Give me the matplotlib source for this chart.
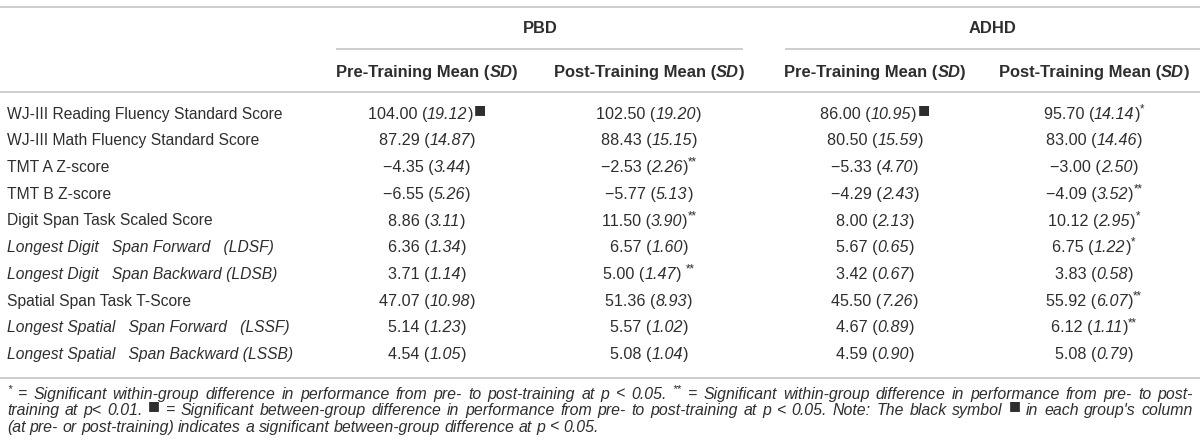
import matplotlib.pyplot as plt

plt.rcParams['font.family'] = ['Liberation Sans', 'DejaVu Sans']

# table content
row_labels = [
    'WJ-III Reading Fluency Standard Score',
    'WJ-III Math Fluency Standard Score',
    'TMT A Z-score',
    'TMT B Z-score',
    'Digit Span Task Scaled Score',
    'Longest Digit   Span Forward   (LDSF)',
    'Longest Digit   Span Backward (LDSB)',
    'Spatial Span Task T-Score',
    'Longest Spatial   Span Forward   (LSSF)',
    'Longest Spatial   Span Backward (LSSB)',
]
italic_rows = [5, 6, 8, 9]

groups = ['PBD', 'ADHD']
col_headers = ['Pre-Training Mean', 'Post-Training Mean',
               'Pre-Training Mean', 'Post-Training Mean']

pbd_pre_mean = [104.00, 87.29, -4.35, -6.55, 8.86, 6.36, 3.71, 47.07, 5.14, 4.54]
pbd_pre_sd = [19.12, 14.87, 3.44, 5.26, 3.11, 1.34, 1.14, 10.98, 1.23, 1.05]
pbd_post_mean = [102.50, 88.43, -2.53, -5.77, 11.50, 6.57, 5.00, 51.36, 5.57, 5.08]
pbd_post_sd = [19.20, 15.15, 2.26, 5.13, 3.90, 1.60, 1.47, 8.93, 1.02, 1.04]
adhd_pre_mean = [86.00, 80.50, -5.33, -4.29, 8.00, 5.67, 3.42, 45.50, 4.67, 4.59]
adhd_pre_sd = [10.95, 15.59, 4.70, 2.43, 2.13, 0.65, 0.67, 7.26, 0.89, 0.90]
adhd_post_mean = [95.70, 83.00, -3.00, -4.09, 10.12, 6.75, 3.83, 55.92, 6.12, 5.08]
adhd_post_sd = [14.14, 14.46, 2.50, 3.52, 2.95, 1.22, 0.58, 6.07, 1.11, 0.79]

# significance markers per column, keyed by row index
SQ = '\u25a0'
pbd_pre_marks = {0: SQ}
pbd_post_marks = {2: '**', 4: '**', 6: ' **'}
adhd_pre_marks = {0: SQ}
adhd_post_marks = {0: '*', 3: '**', 4: '*', 5: '*', 7: '**', 8: '**'}

footnote = [
    [('*', 'sup'), '= Significant within-group difference in performance from pre- to post-training at p < 0.05.',
     ('**', 'sup'), '= Significant within-group difference in performance from pre- to post-'],
    ['training at p< 0.01.', (SQ, 'sq'), '= Significant between-group difference in performance from pre- to post-training at p < 0.05. Note: The black symbol',
     (SQ, 'sq'), "in each group's column"],
    ['(at pre- or post-training) indicates a significant between-group difference at p < 0.05.'],
]

TXT = '#2e2e2e'
LINE = '#cdcdcd'

W, H = 1200, 445
fig = plt.figure(figsize=(12, 4.45), dpi=100)
ax = fig.add_axes([0, 0, 1, 1])
ax.set_xlim(0, W)
ax.set_ylim(H, 0)
ax.axis('off')
renderer = fig.canvas.get_renderer()


def make_text(s, style, y, size):
    fs = size
    yy = y
    fam = ['Liberation Sans', 'DejaVu Sans']
    if 'sup' in style:
        fs = size * 0.72
        yy = y - size * 0.55
    if 'sq' in style:
        fs = size * 0.8
        yy = y - size * 0.5
        fam = ['DejaVu Sans']
    t = ax.text(0, yy, s, fontsize=fs, family=fam, color=TXT,
                fontstyle='italic' if 'i' in style and 'sq' not in style else 'normal',
                fontweight='bold' if 'b' in style else 'normal',
                ha='left', va='baseline')
    return t, t.get_window_extent(renderer).width


def build(runs, y, size):
    objs = []
    for s, style in runs:
        if style == 'gap':
            objs.append((None, s * size / 10))
        else:
            objs.append(make_text(s, style, y, size))
    return objs


def run_width(runs, size):
    objs = build(runs, 0, size)
    total = sum(w for _, w in objs)
    for t, _ in objs:
        if t is not None:
            t.remove()
    return total


def fit_size(runs, target, base=10.0):
    return base * target / run_width(runs, base)


def draw_runs(x, y, runs, size, ha='left'):
    objs = build(runs, y, size)
    total = sum(w for _, w in objs)
    start = x - total / 2 if ha == 'center' else x
    for t, w in objs:
        if t is not None:
            t.set_x(start)
        start += w


def cell_runs(mean, sd, mark):
    m = f'{mean:.2f}'.replace('-', '\u2212')
    runs = [(m + ' (', ''), (f'{sd:.2f}', 'i'), (')', '')]
    if mark:
        if mark == SQ:
            runs.append((1, 'gap'))
            runs.append((mark, 'sq'))
        elif mark.startswith(' '):
            runs.append((4, 'gap'))
            runs.append((mark.strip(), 'sup'))
        else:
            runs.append((mark, 'sup'))
    return runs


def head_runs(h):
    return [(h + ' (', 'b'), ('SD', 'bi'), (')', 'b')]


# font sizes matched to the widths measured on the reference
FS_LABEL = fit_size([(row_labels[0], '')], 276)
FS_VAL = fit_size(cell_runs(87.29, 14.87, None), 96)
FS_HEAD = fit_size(head_runs(col_headers[0]), 181)
note_words = footnote[0][1].split(' ') + footnote[0][3].split(' ')
FS_NOTE = fit_size([(' '.join(note_words) + ' * **', 'i')], 1150)

# horizontal rules
ax.plot([0, W], [6.5, 6.5], color=LINE, lw=1.4)
ax.plot([337, 742], [49, 49], color=LINE, lw=1.4)
ax.plot([786, W], [49, 49], color=LINE, lw=1.4)
ax.plot([0, W], [92, 92], color=LINE, lw=1.4)
ax.plot([0, W], [378, 378], color=LINE, lw=1.4)


def baseline(center, size):
    return center + 0.36 * size * 100 / 72


# group headers
group_x = [540, 993]
for g, gx in zip(groups, group_x):
    draw_runs(gx, baseline(27, FS_HEAD), [(g, 'b')], FS_HEAD, ha='center')

col_x = [427, 649, 875, 1094]
for h, cx in zip(col_headers, col_x):
    draw_runs(cx, baseline(71, FS_HEAD), head_runs(h), FS_HEAD, ha='center')

columns = [
    (pbd_pre_mean, pbd_pre_sd, pbd_pre_marks),
    (pbd_post_mean, pbd_post_sd, pbd_post_marks),
    (adhd_pre_mean, adhd_pre_sd, adhd_pre_marks),
    (adhd_post_mean, adhd_post_sd, adhd_post_marks),
]

ROW0, ROW_STEP = 113, 26.7
for i, label in enumerate(row_labels):
    yc = ROW0 + ROW_STEP * i
    draw_runs(7, baseline(yc, FS_LABEL), [(label, 'i' if i in italic_rows else '')], FS_LABEL)
    for (means, sds, marks), cx in zip(columns, col_x):
        draw_runs(cx, baseline(yc, FS_VAL), cell_runs(means[i], sds[i], marks.get(i)),
                  FS_VAL, ha='center')

# footnote, first two lines justified to the table width
space_w = run_width([('a a', 'i')], FS_NOTE) - run_width([('aa', 'i')], FS_NOTE)
for k, line in enumerate(footnote):
    y = baseline(393 + 16.5 * k, FS_NOTE)
    items = []
    for part in line:
        if isinstance(part, tuple):
            items.append(make_text(part[0], part[1] + 'i', y, FS_NOTE))
        else:
            for word in part.split(' '):
                items.append(make_text(word, 'i', y, FS_NOTE))
    natural = sum(w for _, w in items)
    gap = space_w
    if k < 2:
        gap = (1193 - 7 - natural) / (len(items) - 1)
    x = 7
    for t, w in items:
        t.set_x(x)
        x += w + gap

fig.savefig('out.png', dpi=100)
